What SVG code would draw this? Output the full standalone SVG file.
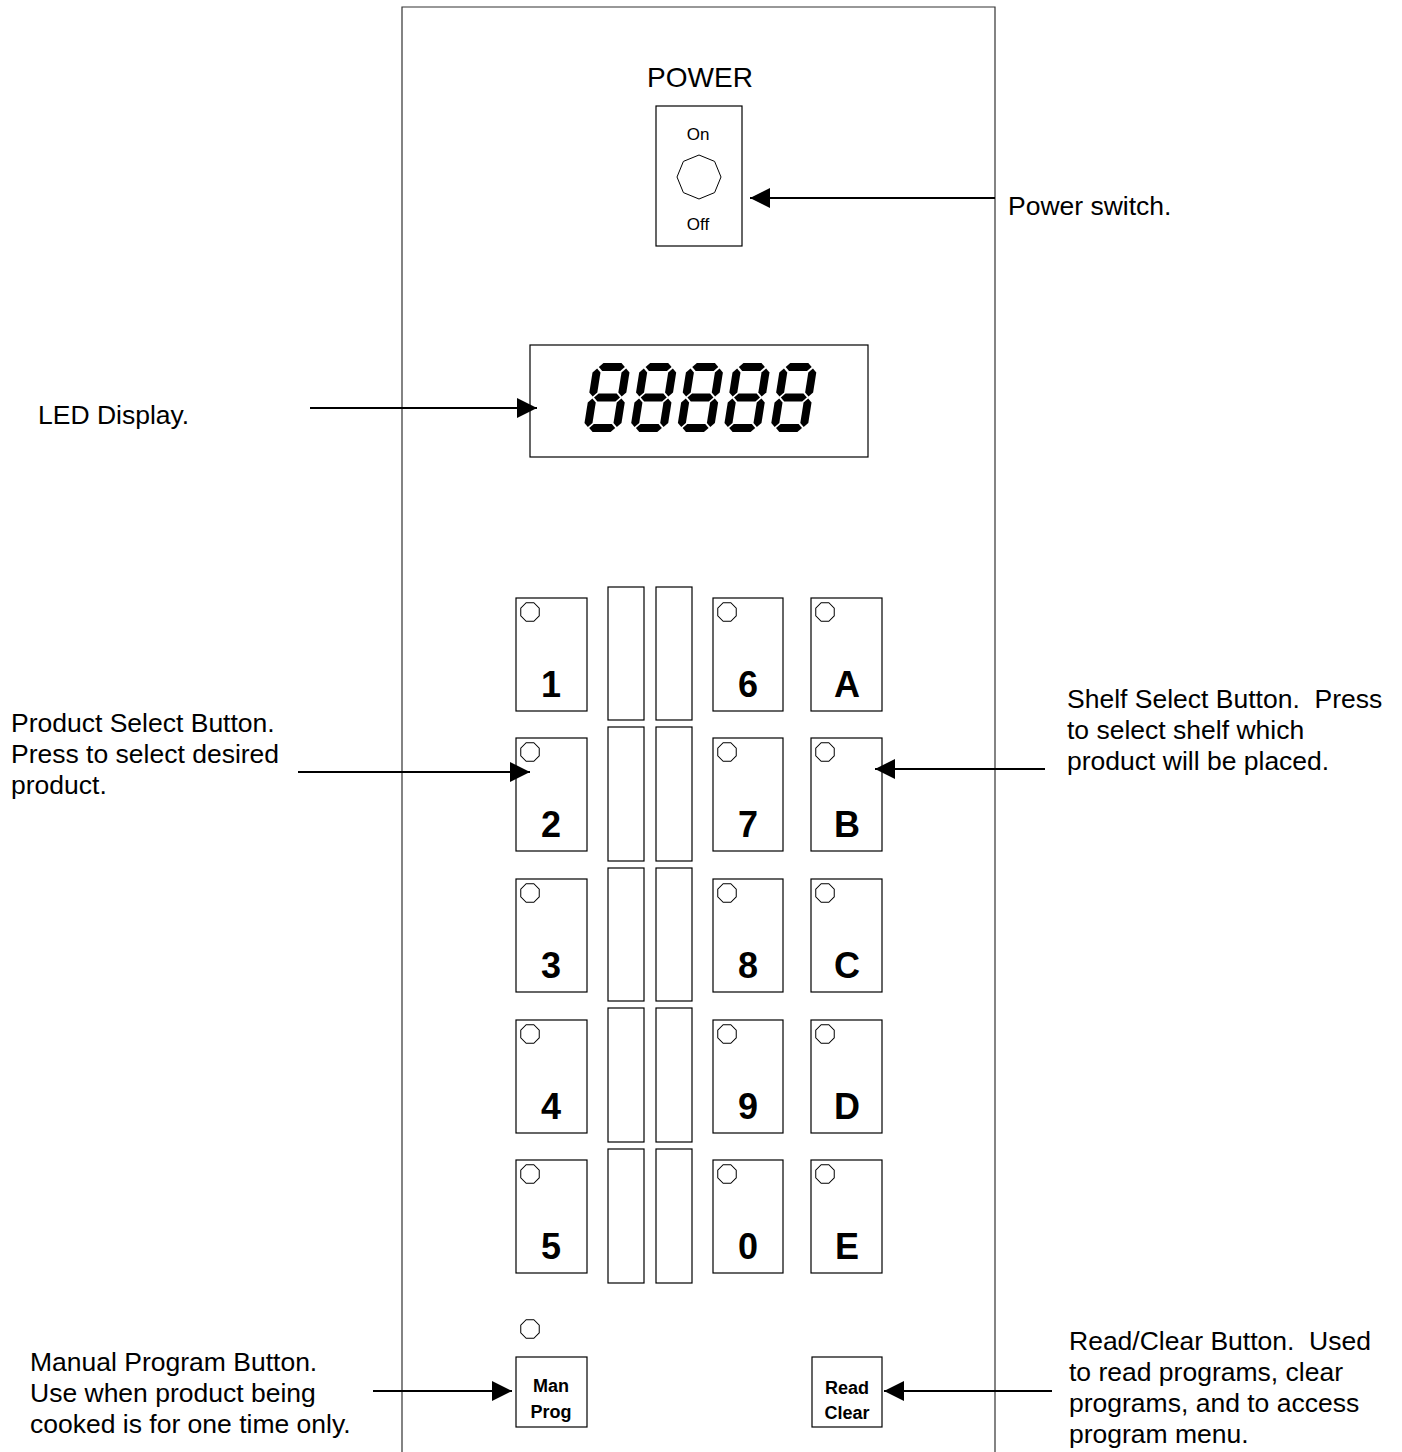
<svg xmlns="http://www.w3.org/2000/svg" width="1402" height="1452" viewBox="0 0 1402 1452">
<style>
.box{fill:#fff;stroke:#000;stroke-width:1.2}
.lbl{font-family:"Liberation Sans",Arial,sans-serif;font-size:26.5px;fill:#000;white-space:pre}
.num{font-family:"Liberation Sans",Arial,sans-serif;font-size:36px;font-weight:bold;text-anchor:middle;fill:#000}
.btxt{font-family:"Liberation Sans",Arial,sans-serif;font-size:18px;font-weight:bold;text-anchor:middle;fill:#000}
.conn line{stroke:#000;stroke-width:2}
</style>
<defs>
<marker id="ah" viewBox="0 0 20 20" refX="20" refY="10" markerWidth="20" markerHeight="20" markerUnits="userSpaceOnUse" orient="auto">
<path d="M0,0 L20,10 L0,20 Z" fill="#000"/>
</marker>
<polygon id="oct" points="10,0 7.07,7.07 0,10 -7.07,7.07 -10,0 -7.07,-7.07 0,-10 7.07,-7.07" transform="rotate(22.5)" fill="#fff" stroke="#000" stroke-width="1"/>
<g id="digit" fill="#000">
<polygon points="5.5,4 9.5,0 27.5,0 31.5,4 27.5,8 9.5,8"/>
<polygon points="5.5,34.5 9.5,30.5 27.5,30.5 31.5,34.5 27.5,38.5 9.5,38.5"/>
<polygon points="5.5,65 9.5,61 27.5,61 31.5,65 27.5,69 9.5,69"/>
<polygon points="4,5.5 8,9.5 8,29.5 4,33.5 0,29.5 0,9.5"/>
<polygon points="33,5.5 37,9.5 37,29.5 33,33.5 29,29.5 29,9.5"/>
<polygon points="4,35.5 8,39.5 8,60 4,64 0,60 0,39.5"/>
<polygon points="33,35.5 37,39.5 37,60 33,64 29,60 29,39.5"/>
</g>
</defs>
<rect width="1402" height="1452" fill="#fff"/>
<g id="panel">
<path d="M402,1460 L402,7 L995,7 L995,1460" fill="none" stroke="#333" stroke-width="1.2"/>
</g>
<g id="power">
<text class="lbl" x="700" y="87" style="font-size:28px" text-anchor="middle">POWER</text>
<rect class="box" x="656" y="106" width="86" height="140"/>
<text class="lbl" x="698" y="140" style="font-size:17px" text-anchor="middle">On</text>
<polygon points="699,155 714.6,161.4 721,177 714.6,192.6 699,199 683.4,192.6 677,177 683.4,161.4" fill="#fff" stroke="#000" stroke-width="1"/>
<text class="lbl" x="698" y="230" style="font-size:17px" text-anchor="middle">Off</text>
</g>
<g id="led-display">
<rect class="box" x="530" y="345" width="338" height="112"/>
<use href="#digit" transform="translate(594,363) skewX(-9)"/>
<use href="#digit" transform="translate(640.7,363) skewX(-9)"/>
<use href="#digit" transform="translate(687.4,363) skewX(-9)"/>
<use href="#digit" transform="translate(734,363) skewX(-9)"/>
<use href="#digit" transform="translate(780.8,363) skewX(-9)"/>
</g>
<g id="strips">
<rect class="box" x="608" y="587" width="36" height="133"/>
<rect class="box" x="656" y="587" width="36" height="133"/>
<rect class="box" x="608" y="727" width="36" height="134"/>
<rect class="box" x="656" y="727" width="36" height="134"/>
<rect class="box" x="608" y="868" width="36" height="133"/>
<rect class="box" x="656" y="868" width="36" height="133"/>
<rect class="box" x="608" y="1008" width="36" height="134"/>
<rect class="box" x="656" y="1008" width="36" height="134"/>
<rect class="box" x="608" y="1149" width="36" height="134"/>
<rect class="box" x="656" y="1149" width="36" height="134"/>
</g>
<g id="btn-1"><rect class="box" x="516" y="598" width="71" height="113"/><use href="#oct" x="530" y="612"/><text class="num" x="551" y="697">1</text></g>
<g id="btn-2"><rect class="box" x="516" y="738" width="71" height="113"/><use href="#oct" x="530" y="752"/><text class="num" x="551" y="837">2</text></g>
<g id="btn-3"><rect class="box" x="516" y="879" width="71" height="113"/><use href="#oct" x="530" y="893"/><text class="num" x="551" y="978">3</text></g>
<g id="btn-4"><rect class="box" x="516" y="1020" width="71" height="113"/><use href="#oct" x="530" y="1034"/><text class="num" x="551" y="1119">4</text></g>
<g id="btn-5"><rect class="box" x="516" y="1160" width="71" height="113"/><use href="#oct" x="530" y="1174"/><text class="num" x="551" y="1259">5</text></g>
<g id="btn-6"><rect class="box" x="713" y="598" width="70" height="113"/><use href="#oct" x="727" y="612"/><text class="num" x="748" y="697">6</text></g>
<g id="btn-7"><rect class="box" x="713" y="738" width="70" height="113"/><use href="#oct" x="727" y="752"/><text class="num" x="748" y="837">7</text></g>
<g id="btn-8"><rect class="box" x="713" y="879" width="70" height="113"/><use href="#oct" x="727" y="893"/><text class="num" x="748" y="978">8</text></g>
<g id="btn-9"><rect class="box" x="713" y="1020" width="70" height="113"/><use href="#oct" x="727" y="1034"/><text class="num" x="748" y="1119">9</text></g>
<g id="btn-0"><rect class="box" x="713" y="1160" width="70" height="113"/><use href="#oct" x="727" y="1174"/><text class="num" x="748" y="1259">0</text></g>
<g id="btn-A"><rect class="box" x="811" y="598" width="71" height="113"/><use href="#oct" x="825" y="612"/><text class="num" x="847" y="697">A</text></g>
<g id="btn-B"><rect class="box" x="811" y="738" width="71" height="113"/><use href="#oct" x="825" y="752"/><text class="num" x="847" y="837">B</text></g>
<g id="btn-C"><rect class="box" x="811" y="879" width="71" height="113"/><use href="#oct" x="825" y="893"/><text class="num" x="847" y="978">C</text></g>
<g id="btn-D"><rect class="box" x="811" y="1020" width="71" height="113"/><use href="#oct" x="825" y="1034"/><text class="num" x="847" y="1119">D</text></g>
<g id="btn-E"><rect class="box" x="811" y="1160" width="71" height="113"/><use href="#oct" x="825" y="1174"/><text class="num" x="847" y="1259">E</text></g>
<g id="btn-manprog">
<use href="#oct" x="530" y="1329"/>
<rect class="box" x="516" y="1357" width="71" height="70"/>
<text class="btxt" x="551" y="1392">Man</text>
<text class="btxt" x="551" y="1418">Prog</text>
</g>
<g id="btn-readclear">
<rect class="box" x="812" y="1357" width="70" height="70"/>
<text class="btxt" x="847" y="1394">Read</text>
<text class="btxt" x="847" y="1419">Clear</text>
</g>
<g id="labels">
<text class="lbl" x="1008" y="215">Power switch.</text>
<text class="lbl" x="38" y="424">LED Display.</text>
<text class="lbl" x="11" y="732">Product Select Button.</text>
<text class="lbl" x="11" y="763">Press to select desired</text>
<text class="lbl" x="11" y="794">product.</text>
<text class="lbl" x="1067" y="708">Shelf Select Button.  Press</text>
<text class="lbl" x="1067" y="739">to select shelf which</text>
<text class="lbl" x="1067" y="770">product will be placed.</text>
<text class="lbl" x="30" y="1371">Manual Program Button.</text>
<text class="lbl" x="30" y="1402">Use when product being</text>
<text class="lbl" x="30" y="1433">cooked is for one time only.</text>
<text class="lbl" x="1069" y="1350">Read/Clear Button.  Used</text>
<text class="lbl" x="1069" y="1381">to read programs, clear</text>
<text class="lbl" x="1069" y="1412">programs, and to access</text>
<text class="lbl" x="1069" y="1443">program menu.</text>
</g>
<g id="connectors" class="conn">
<line x1="995" y1="198" x2="750" y2="198" marker-end="url(#ah)"/>
<line x1="310" y1="408" x2="537" y2="408" marker-end="url(#ah)"/>
<line x1="298" y1="772" x2="530" y2="772" marker-end="url(#ah)"/>
<line x1="1045" y1="769" x2="875" y2="769" marker-end="url(#ah)"/>
<line x1="373" y1="1391" x2="512" y2="1391" marker-end="url(#ah)"/>
<line x1="1052" y1="1391" x2="884" y2="1391" marker-end="url(#ah)"/>
</g>
</svg>
